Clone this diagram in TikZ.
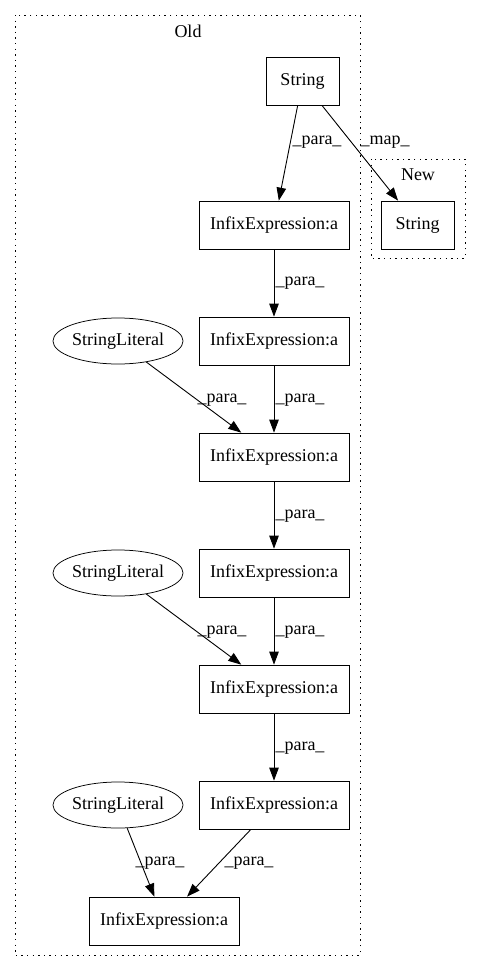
\documentclass[tikz,border=0pt]{standalone}
\usepackage{fontspec}
\setmainfont{Liberation Serif}
\usetikzlibrary{shapes.geometric,arrows.meta}
\begin{document}
\begin{tikzpicture}[x=1bp,y=-1bp,
  every node/.style={font=\fontsize{18bp}{20bp}\selectfont, inner sep=0pt},
  box/.style={draw, line width=0.75bp, rectangle, minimum width=150bp, minimum height=48bp},
  sbox/.style={draw, line width=0.75bp, rectangle, minimum width=73bp, minimum height=48bp},
  ell/.style={draw, line width=0.75bp, ellipse, minimum width=116bp, minimum height=46bp},
  edge/.style={draw, line width=0.9bp, -{Triangle[length=13bp,width=9.5bp]}},
  lab/.style={},
  cluster/.style={draw, line width=1bp, dash pattern=on 1.4bp off 4.2bp}
]
\useasboundingbox (0,0) rectangle (480,972);
\fill[white] (0,0) rectangle (480,972);
% clusters
\draw[cluster] (15,15) rectangle (360,955);
\node (oldlab) at (188,31) {Old};
\draw[cluster] (371,159) rectangle (465,258);
\node (newlab) at (418,175) {New};
% nodes
\node[sbox] (s1) at (302.5,81) {String};
\node[sbox] (s2) at (417.5,225) {String};
\node[box] (i1) at (274,225) {InfixExpression:a};
\node[box] (i2) at (274,341) {InfixExpression:a};
\node[box] (i3) at (274,457) {InfixExpression:a};
\node[box] (i4) at (274,573) {InfixExpression:a};
\node[box] (i5) at (274,689) {InfixExpression:a};
\node[box] (i6) at (274,805) {InfixExpression:a};
\node[box] (i7) at (164,921) {InfixExpression:a};
\node[ell] (l1) at (118,341) {StringLiteral};
\node[ell] (l2) at (118,573) {StringLiteral};
\node[ell] (l3) at (118,805) {StringLiteral};
% edges
\draw[edge] (s1) -- (i1);
\node[lab] at (317,142) {\_para\_};
\draw[edge] (s1) -- (s2);
\node[lab] at (385,142) {\_map\_};
\draw[edge] (i1) -- (i2);
\node[lab] at (300,283) {\_para\_};
\draw[edge] (i2) -- (i3);
\node[lab] at (300,400) {\_para\_};
\draw[edge] (l1) -- (i3);
\node[lab] at (222,400) {\_para\_};
\draw[edge] (i3) -- (i4);
\node[lab] at (300,516) {\_para\_};
\draw[edge] (i4) -- (i5);
\node[lab] at (300,632) {\_para\_};
\draw[edge] (l2) -- (i5);
\node[lab] at (222,632) {\_para\_};
\draw[edge] (i5) -- (i6);
\node[lab] at (300,748) {\_para\_};
\draw[edge] (l3) -- (i7);
\node[lab] at (160,863) {\_para\_};
\draw[edge] (i6) -- (i7);
\node[lab] at (249,863) {\_para\_};
\end{tikzpicture}
\end{document}
